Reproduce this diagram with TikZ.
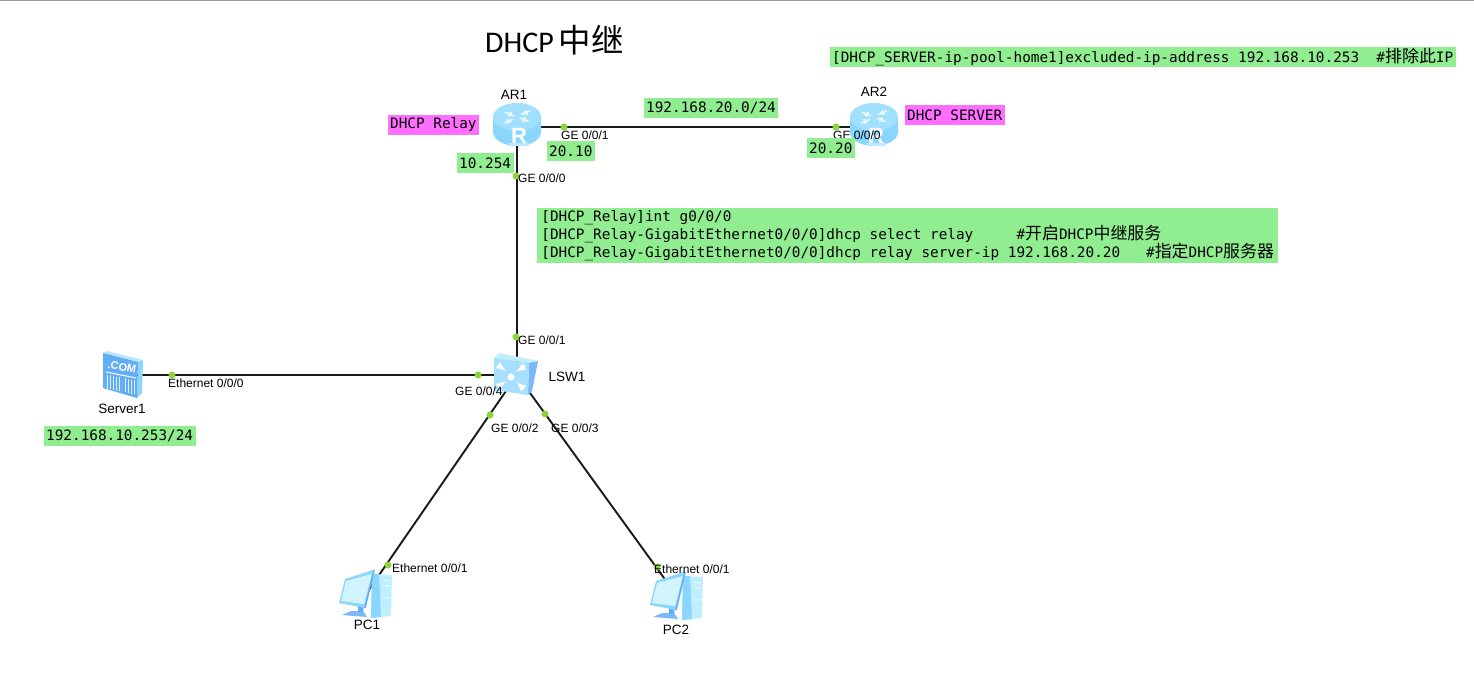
\documentclass[tikz,border=0pt]{standalone}
\usepackage{fontspec}
\setmainfont{Liberation Sans}
\setmonofont{DejaVu Sans Mono}
\newfontfamily\cjk[Scale=1.18]{Noto Sans CJK SC}
\newfontfamily\titlefont{Carlito}
\definecolor{notegreen}{HTML}{90EE90}
\definecolor{notepink}{HTML}{FF6FFF}
\definecolor{portdot}{HTML}{8CD33C}
\definecolor{icondark}{HTML}{63ADF5}
\definecolor{iconmid}{HTML}{8AD6FF}
\definecolor{iconlight}{HTML}{BDEFFF}
\tikzset{
    link/.style = {line width=1.9pt, black!90},
    portdot/.style = {circle, fill=portdot, inner sep=0pt, minimum size=7pt},
    port/.style = {inner sep=0pt, anchor=west, font=\fontsize{12}{12}\selectfont},
    devname/.style = {inner sep=0pt, font=\fontsize{13.5}{13.5}\selectfont},
    note/.style = {fill=notegreen, inner xsep=2.5pt, inner ysep=0pt, minimum height=20pt, anchor=west, align=left, font=\ttfamily\fontsize{14.35}{18}\selectfont},
    pinknote/.style = {note, fill=notepink},
    % the device icons
    pics/routericon/.style = {code = {
        \fill[iconmid] (-24,-10) -- (-24,5) arc[x radius=24, y radius=14, start angle=180, end angle=0] -- (24,-10) -- cycle;
        \fill[iconmid!55!white] (-8,16) rectangle (12,19);
        \fill[iconlight!45!iconmid] (0,-10) ellipse[x radius=24, y radius=14];
        \draw[white, line width=1.6pt, opacity=.75, -latex] (-3,-11) -- (-13,-15);
        \draw[white, line width=1.6pt, opacity=.75, -latex] (3,-9) -- (13,-5);
        \draw[white, line width=1.6pt, opacity=.75, -latex] (13,-16) -- (3,-12);
        \draw[white, line width=1.6pt, opacity=.75, -latex] (-13,-4) -- (-3,-8);
        \node[white, inner sep=0pt, font=\bfseries\fontsize{22}{22}\selectfont] (#1rlabel) at (2,9) {R};
    }},
    pics/switchicon/.style = {code = {
        \fill[iconlight] (-23,-17) -- (-18,-22) -- (21,-14) -- (12,-12) -- cycle;
        \fill[icondark!85!white] (12,-12) -- (21,-14) -- (15,16) -- (11,20) -- cycle;
        \fill[iconmid!75!white] (-23,-17) -- (12,-12) -- (11,20) -- (-23,15) -- cycle;
        \fill[white] (-6,2) circle[radius=3.5];
        \draw[white, line width=2.4pt, -latex] (-19,-10) -- (-11,-4);
        \draw[white, line width=2.4pt, -latex] (8,-9) -- (-1,-3);
        \draw[white, line width=2.4pt, -latex] (-19,12) -- (-11,6);
        \draw[white, line width=2.4pt, -latex] (7,14) -- (-1,7);
    }},
    pics/servericon/.style = {code = {
        \fill[iconmid] (15,-13) -- (20,-15) -- (19,18) -- (14,23) -- cycle;
        \fill[iconmid!60!white] (-20,-22) -- (-16,-24) -- (20,-15) -- (15,-13) -- cycle;
        \fill[icondark] (-20,-22) -- (15,-13) -- (14,23) -- (-20,13) -- cycle;
        \node[white, inner sep=0pt, rotate=-10, font=\bfseries\fontsize{11}{11}\selectfont] (#1slabel) at (-1,-8) {.COM};
        \foreach \xpos in {-16,-13,-10,-7,-4,2,5,8,11} {
            \draw[white, line width=.7pt, opacity=.8] (\xpos,{3+\xpos*.2}) -- (\xpos,{17+\xpos*.2});
        }
        \draw[white, line width=1pt] (-17,-3) -- (13,3);
    }},
    pics/pcicon/.style = {code = {
        \fill[iconlight] (6,-20) -- (26,-19) -- (25,22) -- (5,24) -- cycle;
        \fill[iconmid] (6,-20) -- (13,-20) -- (15,23) -- (5,24) -- cycle;
        \draw[white, line width=.8pt] (17,-14) -- (24,-13) (17,-9) -- (24,-8) (16,4) -- (24,4);
        \fill[icondark!85!white] (-24,21) -- (-15,17) -- (-3,17) -- (1,23) -- cycle;
        \fill[icondark] (-8,10) -- (-2,10) -- (-3,18) -- (-8,18) -- cycle;
        \fill[iconmid] (-27,9) -- (-21,-15) -- (7,-24) -- (-1,14) -- cycle;
        \fill[iconlight!70!white] (-25,7) -- (-20,-13) -- (6,-20) -- (-2,10) -- cycle;
        \draw[icondark, line width=1.6pt] (8,-24) -- (-1,14);
    }},
}
\begin{document}
\begin{tikzpicture}[x=1pt, y=-1pt]
    \useasboundingbox (0,0) rectangle (1474,684);
    \draw[black!30!blue!10!gray!70, line width=1.6pt] (0,0.5) -- (1474,0.5); % window edge

    \coordinate (ar1) at (517,127);
    \coordinate (ar2) at (874,127);
    \coordinate (lsw1) at (517,375);
    \coordinate (server1) at (123,375);
    \coordinate (pc1) at (366,594);
    \coordinate (pc2) at (677,596);

    % links first, the icons sit on top of them
    \draw[link] (ar1) -- (ar2);
    \draw[link] (ar1) -- (lsw1);
    \draw[link] (server1) -- (lsw1);
    \draw[link] (lsw1) -- (pc1);
    \draw[link] (lsw1) -- (pc2);

    \pic (ar1icon) at (ar1) {routericon};
    \pic (ar2icon) at (ar2) {routericon};
    \pic (lsw1icon) at (lsw1) {switchicon};
    \pic (server1icon) at (server1) {servericon};
    \pic (pc1icon) at (pc1) {pcicon};
    \pic (pc2icon) at (pc2) {pcicon};

    \node[devname] (ar1name) at (514,95) {AR1};
    \node[devname] (ar2name) at (874,92) {AR2};
    \node[devname] (lsw1name) at (567,377) {LSW1};
    \node[devname] (server1name) at (122,409) {Server1};
    \node[devname] (pc1name) at (367,625) {PC1};
    \node[devname] (pc2name) at (676,630) {PC2};

    % port dots and their labels
    \node[portdot] (dota) at (564,127) {};
    \node[portdot] (dotb) at (836,127) {};
    \node[portdot] (dotc) at (516,176) {};
    \node[portdot] (dotd) at (516,337) {};
    \node[portdot] (dote) at (478,375) {};
    \node[portdot] (dotf) at (490,415) {};
    \node[portdot] (dotg) at (545,414) {};
    \node[portdot] (doth) at (172,375) {};
    \node[portdot] (doti) at (388,565) {};
    \node[portdot] (dotj) at (657,567) {};

    \node[port] (porta) at (561,135) {GE 0/0/1};
    \node[port] (portb) at (833,135) {GE 0/0/0};
    \node[port] (portc) at (518,178) {GE 0/0/0};
    \node[port] (portd) at (518,340) {GE 0/0/1};
    \node[port] (porte) at (455,391) {GE 0/0/4};
    \node[port] (portf) at (491,428) {GE 0/0/2};
    \node[port] (portg) at (551,428) {GE 0/0/3};
    \node[port] (porth) at (168,383) {Ethernet 0/0/0};
    \node[port] (porti) at (392,568) {Ethernet 0/0/1};
    \node[port] (portj) at (654,569) {Ethernet 0/0/1};

    % notes
    \node[inner sep=0pt, anchor=west] (title) at (485,40) {\titlefont\fontsize{30}{30}\selectfont DHCP\,\fontsize{27.5}{30}\selectfont\cjk 中继};
    \node[note] (excluded) at (829.5,57) {[DHCP\_SERVER-ip-pool-home1]excluded-ip-address 192.168.10.253\ \ \#{\cjk 排除此}IP};
    \node[note] (subnet) at (643.5,108) {192.168.20.0/24};
    \node[pinknote] (relaytag) at (387.5,125) {DHCP Relay};
    \node[pinknote] (servertag) at (904.5,115) {DHCP SERVER};
    \node[note] (ipa) at (546.5,151) {20.10};
    \node[note] (ipb) at (806.5,148) {20.20};
    \node[note] (ipc) at (456.5,163) {10.254};
    \node[note, inner xsep=3pt, minimum width=741pt, minimum height=55pt] (relaycfg) at (537,235.5) {%
        {[}DHCP\_Relay]int g0/0/0\\
        {[}DHCP\_Relay-GigabitEthernet0/0/0]dhcp select relay\ \ \ \ \ \#{\cjk 开启}DHCP{\cjk 中继服务}\\
        {[}DHCP\_Relay-GigabitEthernet0/0/0]dhcp relay server-ip 192.168.20.20\ \ \ \#{\cjk 指定}DHCP{\cjk 服务器}};
    \node[note] (serverip) at (43.5,436) {192.168.10.253/24};
\end{tikzpicture}
\end{document}
